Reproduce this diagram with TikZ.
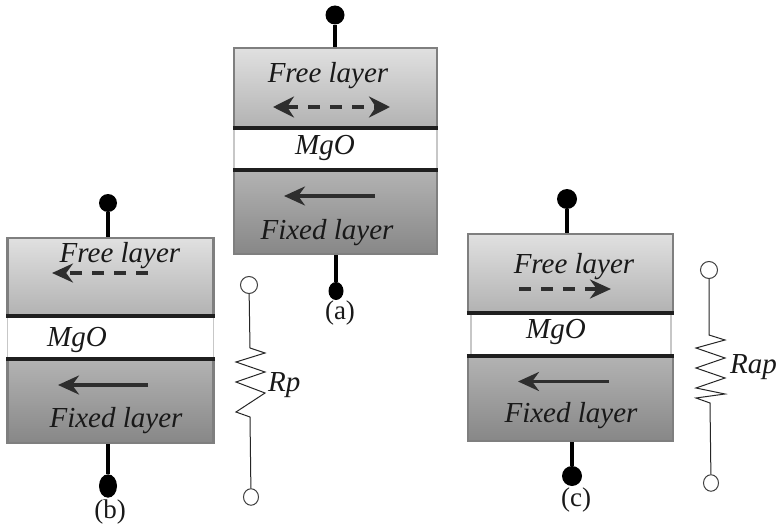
\documentclass[tikz,border=0pt]{standalone}
\usepackage{fontspec}
\setmainfont{Liberation Serif}
\usetikzlibrary{arrows.meta,shapes.geometric}
\definecolor{edge}{HTML}{7F7F7F}
\definecolor{arrowdark}{HTML}{2E2E2E}
\tikzset{
  x=1pt,y=-1pt,
  freebox/.style={rectangle,draw=edge,line width=2.4pt,inner sep=0pt,top color=black!12,bottom color=black!30},
  fixedbox/.style={rectangle,draw=edge,line width=2.4pt,inner sep=0pt,top color=black!30,bottom color=black!47},
  oxidebox/.style={rectangle,draw=black!22,line width=1.5pt,fill=white,inner sep=0pt},
  barrier/.style={line width=3.6pt,color=black!88},
  lead/.style={line width=4pt,color=black},
  dotnode/.style={circle,fill=black,inner sep=0pt,minimum size=#1},
  opennode/.style={ellipse,draw=black!75,fill=white,line width=1pt,inner sep=0pt,minimum width=#1,minimum height=#1},
  wire/.style={line width=1pt,color=black!85,line join=miter},
  laytext/.style={font=\itshape\fontsize{29}{31}\selectfont,inner sep=0pt,color=black!90},
  caption/.style={font=\fontsize{27}{29}\selectfont,inner sep=0pt,color=black!90},
  solidarrow/.style={-{Stealth[length=21pt,width=19pt]},line width=3.4pt,color=arrowdark},
  dasharrow/.style={-{Stealth[length=21pt,width=19pt]},line width=3.4pt,color=arrowdark,dash pattern=on 12pt off 10pt},
  dasharrowtwo/.style={{Stealth[length=21pt,width=21pt]}-{Stealth[length=21pt,width=21pt]},line width=3.4pt,color=arrowdark,dash pattern=on 12pt off 10pt},
}
\begin{document}
\begin{tikzpicture}
\useasboundingbox (0,0) rectangle (777,527);
\path[fill=white] (0,0) rectangle (777,527);

% panel a
\node[freebox,minimum width=203pt,minimum height=79pt] (afree) at (335.5,87.5) {};
\node[oxidebox,minimum width=203pt,minimum height=44pt] (aoxide) at (335.5,149) {};
\node[fixedbox,minimum width=203pt,minimum height=83pt] (afixed) at (335.5,212.5) {};
\draw[barrier] (afree.south west) -- (afree.south east);
\draw[barrier] (afixed.north west) -- (afixed.north east);
\node[dotnode=19pt] (atop) at (335,15) {};
\node[circle,fill=black,inner sep=0pt,minimum size=15pt,yscale=1.2] (abot) at (336,291) {};
\draw[lead] (atop) -- (afree.north -| atop);
\draw[lead] (afixed.south -| abot) -- (abot);
\node[laytext] (afreet) at (328,76) {Free layer};
\node[laytext] (aoxt) at (325,148) {MgO};
\node[laytext] (afixt) at (327,233) {Fixed layer};
\node[caption] (acap) at (340,313) {(a)};
\coordinate (a1) at (273,107); \coordinate (a2) at (390,107);
\draw[dasharrowtwo] (a1) -- (a2);
\coordinate (a3) at (375,196); \coordinate (a4) at (284,196);
\draw[solidarrow] (a3) -- (a4);

% panel b
\node[freebox,minimum width=206pt,minimum height=77pt] (bfree) at (110.5,276.5) {};
\node[oxidebox,minimum width=206pt,minimum height=44pt] (boxide) at (110.5,337) {};
\node[fixedbox,minimum width=206pt,minimum height=83pt] (bfixed) at (110.5,401.5) {};
\draw[barrier] (bfree.south west) -- (bfree.south east);
\draw[barrier] (bfixed.north west) -- (bfixed.north east);
\node[dotnode=18pt] (btop) at (108,203) {};
\node[circle,fill=black,inner sep=0pt,minimum size=18pt,yscale=1.3] (bbot) at (108,486) {};
\draw[lead] (btop) -- (bfree.north -| btop);
\draw[lead] (bfixed.south -| bbot) -- (bbot);
\node[laytext] (bfreet) at (120,256) {Free layer};
\node[laytext] (boxt) at (77,340) {MgO};
\node[laytext] (bfixt) at (116,421) {Fixed layer};
\node[caption] (bcap) at (110,512) {(b)};
\coordinate (b1) at (148,273); \coordinate (b2) at (52,273);
\draw[dasharrow] (b1) -- (b2);
\coordinate (b3) at (148,385); \coordinate (b4) at (58,385);
\draw[solidarrow] (b3) -- (b4);
\node[opennode=17pt] (btr) at (249,285) {};
\node[opennode=15pt,yscale=1.1] (bbr) at (251,497) {};
\coordinate (bz0) at (250,348);
\draw[wire] (btr) -- (bz0) -- (265,353) -- (236,362) -- (265,372) -- (236,382) -- (265,393) -- (236,412) -- (250,417) -- (bbr);
\node[laytext,anchor=west] (brl) at (268,385) {Rp};

% panel c
\node[freebox,minimum width=205pt,minimum height=78pt] (cfree) at (570.5,273) {};
\node[oxidebox,minimum width=200pt,minimum height=42pt] (coxide) at (571,334) {};
\node[fixedbox,minimum width=205pt,minimum height=84pt] (cfixed) at (570.5,399) {};
\draw[barrier] (cfree.south west) -- (cfree.south east);
\draw[barrier] (cfixed.north west) -- (cfixed.north east);
\node[dotnode=20pt] (ctop) at (567,199) {};
\node[dotnode=20pt] (cbot) at (572,476) {};
\draw[lead] (ctop) -- (cfree.north -| ctop);
\draw[lead] (cfixed.south -| cbot) -- (cbot);
\node[laytext] (cfreet) at (574,267) {Free layer};
\node[laytext] (coxt) at (556,332) {MgO};
\node[laytext] (cfixt) at (571,416) {Fixed layer};
\node[caption] (ccap) at (576,500) {(c)};
\coordinate (c1) at (519,289); \coordinate (c2) at (611,289);
\draw[dasharrow] (c1) -- (c2);
\coordinate (c3) at (609,381.5); \coordinate (c4) at (518,381.5);
\draw[solidarrow] (c3) -- (c4);
\node[opennode=17pt] (ctr) at (709,270) {};
\node[opennode=15pt,yscale=1.1] (cbr) at (711,483) {};
\coordinate (cz0) at (709,335);
\draw[wire] (ctr) -- (cz0) -- (725,340) -- (696,348) -- (725,358) -- (696,368) -- (725,378) -- (696,388) -- (725,394) -- (696,398) -- (710,403) -- (cbr);
\node[laytext,anchor=west] (crl) at (730,367) {Rap};
\end{tikzpicture}
\end{document}
